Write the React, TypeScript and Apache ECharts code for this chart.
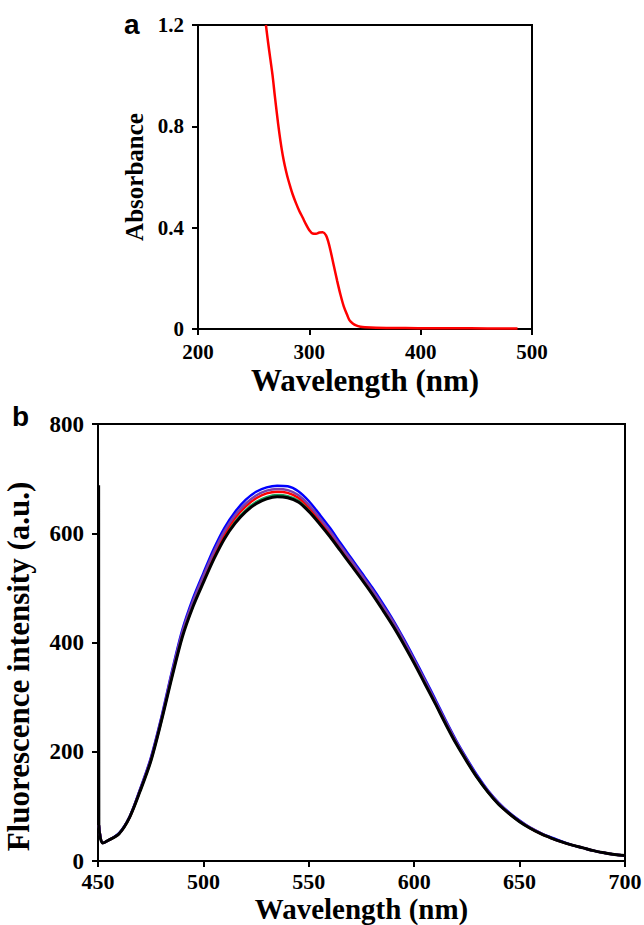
import React, { useEffect, useRef } from "react";
import * as echarts from "echarts";

// Panel a: absorbance spectrum
const absWavelength = [261, 263, 265, 267, 269, 271, 273, 275, 277, 279, 281, 283, 285, 288, 291, 294, 297, 300, 303, 306, 309, 312, 315, 317, 319, 322, 325, 328, 331, 334, 336, 339, 342, 346, 350, 360, 380, 400, 430, 460, 487];
const absValues = [1.2, 1.13, 1.065, 1.0, 0.92, 0.845, 0.775, 0.715, 0.665, 0.625, 0.59, 0.56, 0.532, 0.497, 0.466, 0.44, 0.413, 0.39, 0.377, 0.376, 0.381, 0.382, 0.37, 0.345, 0.31, 0.25, 0.19, 0.135, 0.088, 0.055, 0.035, 0.022, 0.014, 0.009, 0.007, 0.005, 0.004, 0.003, 0.003, 0.002, 0.002];

// Panel b: fluorescence spectra
const flWavelength = [450.3, 450.4, 452.2, 455, 460, 465, 470, 475, 480, 485, 490, 495, 500, 505, 510, 515, 520, 525, 530, 535, 540, 545, 550, 555, 560, 565, 570, 575, 580, 585, 590, 595, 600, 605, 610, 615, 620, 625, 630, 635, 640, 645, 650, 655, 660, 665, 670, 675, 680, 685, 690, 695, 700];
const flGreen = [null, 66, 33, 38, 50, 80, 129, 183, 256, 337, 412, 467, 513, 556, 593, 621, 642, 657, 666, 670, 668, 660, 643, 621, 597, 570, 544, 518, 491, 462, 432, 399, 364, 327, 289, 251, 215, 183, 152, 126, 104, 87, 72, 60, 50, 42, 35, 29, 24, 19, 15, 12, 10];
const flRed = [null, 66, 33, 38, 50, 80, 130, 185, 258, 340, 416, 472, 518, 562, 599, 628, 649, 664, 673, 676, 674, 665, 648, 625, 601, 574, 548, 521, 494, 465, 435, 401, 366, 329, 291, 253, 216, 184, 153, 127, 105, 87, 73, 60, 50, 42, 35, 29, 24, 19, 15, 12, 10];
const flBlue = [null, 66, 33, 38, 51, 81, 132, 188, 262, 346, 423, 480, 527, 572, 610, 639, 661, 676, 684, 687, 686, 677, 659, 635, 610, 582, 555, 528, 501, 472, 441, 407, 371, 334, 296, 257, 220, 187, 156, 129, 107, 89, 74, 61, 51, 43, 36, 29, 24, 19, 15, 12, 10];
const flPurple = [null, 66, 33, 38, 50, 81, 131, 186, 260, 343, 419, 475, 522, 566, 604, 633, 654, 669, 678, 681, 679, 670, 652, 629, 604, 577, 551, 524, 497, 468, 438, 404, 368, 331, 293, 255, 218, 185, 154, 128, 106, 88, 73, 61, 51, 42, 35, 29, 24, 19, 15, 12, 10];
const flBlack = [688, 66, 33, 38, 50, 80, 128, 182, 255, 335, 410, 465, 510, 553, 590, 618, 639, 654, 663, 667, 665, 657, 640, 618, 594, 568, 542, 516, 489, 460, 430, 397, 362, 325, 288, 250, 214, 182, 152, 126, 104, 87, 72, 60, 50, 42, 35, 29, 24, 19, 15, 12, 10];

const serif = "Liberation Serif";

function pairs(xs: number[], ys: (number | null)[]) {
  return xs.map((x, i) => [x, ys[i]]);
}

export default function App() {
  const ref = useRef<HTMLDivElement>(null);
  useEffect(() => {
    document.body.style.margin = "0";
    const chart = echarts.init(ref.current!, null, { renderer: "svg" });
    const axisLine = { show: true, lineStyle: { color: "#000", width: 2 } };
    const tick = { show: true, inside: false, length: 6, lineStyle: { color: "#000", width: 2 } };
    const lbl = (size: number, margin: number) => ({ color: "#000", fontFamily: serif, fontWeight: "bold" as const, fontSize: size, margin });
    const nameStyle = (size: number, padding?: number[]) => ({ color: "#000", fontFamily: serif, fontWeight: "bold" as const, fontSize: size, padding: padding || 0 });
    const line = (name: string, data: any[], color: string, width: number, xi: number) => ({
      type: "line", name, xAxisIndex: xi, yAxisIndex: xi, data, showSymbol: false, symbol: "none",
      smooth: 0.3, lineStyle: { color, width }, itemStyle: { color }, connectNulls: false,
    });
    chart.setOption({
      animation: false,
      backgroundColor: "#fff",
      grid: [
        { left: 198, top: 25, width: 334, height: 304, show: true, borderColor: "#000", borderWidth: 2, containLabel: false, outerBoundsMode: "none" },
        { left: 98, top: 424, width: 527, height: 437, show: true, borderColor: "#000", borderWidth: 2, containLabel: false, outerBoundsMode: "none" },
      ],
      xAxis: [
        { type: "value", gridIndex: 0, min: 200, max: 500, interval: 100, axisLine, axisTick: tick, splitLine: { show: false },
          axisLabel: lbl(21, 12), name: "Wavelength (nm)", nameLocation: "middle", nameGap: 36, nameTextStyle: nameStyle(31) },
        { type: "value", gridIndex: 1, min: 450, max: 700, interval: 50, axisLine, axisTick: tick, splitLine: { show: false },
          axisLabel: lbl(22, 9), name: "Wavelength (nm)", nameLocation: "middle", nameGap: 33, nameTextStyle: nameStyle(29) },
      ],
      yAxis: [
        { type: "value", gridIndex: 0, min: 0, max: 1.2, interval: 0.4, axisLine, axisTick: tick, splitLine: { show: false },
          axisLabel: lbl(21, 14), name: "Absorbance", nameLocation: "middle", nameGap: 50, nameTextStyle: nameStyle(25) },
        { type: "value", gridIndex: 1, min: 0, max: 800, interval: 200, axisLine, axisTick: tick, splitLine: { show: false },
          axisLabel: lbl(23, 14), name: "Fluorescence intensity (a.u.)", nameLocation: "middle", nameGap: 64, nameTextStyle: nameStyle(31, [0, 48, 0, 0]) },
      ],
      graphic: [
        { type: "text", left: 124, top: 10, style: { text: "a", font: "bold 28px Liberation Sans", fill: "#000" } },
        { type: "text", left: 12, top: 402, style: { text: "b", font: "bold 28px Liberation Sans", fill: "#000" } },
      ],
      series: [
        line("Absorbance", pairs(absWavelength, absValues), "#ff0000", 2.5, 0),
        line("Green", pairs(flWavelength, flGreen), "#1aa05a", 2.5, 1),
        line("Red", pairs(flWavelength, flRed), "#ff0000", 2.5, 1),
        line("Blue", pairs(flWavelength, flBlue), "#0000ff", 2.5, 1),
        line("Purple", pairs(flWavelength, flPurple), "#7b3fa8", 2.5, 1),
        line("Black", pairs(flWavelength, flBlack), "#000000", 3, 1),
      ],
    });
    return () => chart.dispose();
  }, []);
  return <div ref={ref} style={{ width: 644, height: 925 }} />;
}
